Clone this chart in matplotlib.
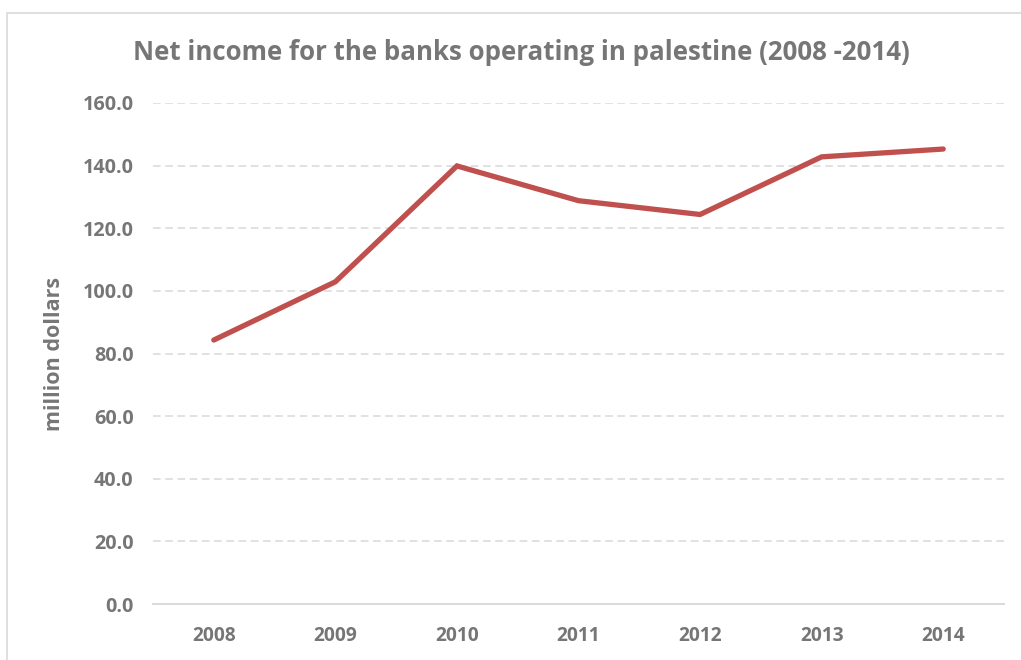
import matplotlib
matplotlib.use("Agg")
import matplotlib.pyplot as plt
from matplotlib.patches import Rectangle

years = ["2008", "2009", "2010", "2011", "2012", "2013", "2014"]
net_income = [84.3, 102.9, 139.9, 128.8, 124.4, 142.8, 145.3]
y_ticks = [0, 20, 40, 60, 80, 100, 120, 140, 160]
y_tick_labels = [f"{v:.1f}" for v in y_ticks]

title = "Net income for the banks operating in palestine (2008 -2014)"
y_label = "million dollars"

TEXT = "#767676"
GRID = "#D9D9D9"
LINE = "#C0504D"

plt.rcParams["font.family"] = ["Open Sans", "DejaVu Sans"]
plt.rcParams["font.weight"] = "bold"

W, H = 1021, 660
fig = plt.figure(figsize=(W / 100, H / 100), dpi=100)
fig.patch.set_facecolor("white")

# chart frame (only top and left edges fall inside the canvas)
fig.patches.append(Rectangle((7 / W, -0.1), 1.2, 1 - 13 / H + 0.1,
                             transform=fig.transFigure, fill=False,
                             edgecolor=GRID, linewidth=1.2))

ax = fig.add_axes([153 / W, 1 - 604 / H, (1004 - 153) / W, (604 - 103) / H])
x = list(range(len(years)))
ax.plot(x, net_income, color=LINE, linewidth=3.8, solid_capstyle="round",
        solid_joinstyle="miter", zorder=3)

ax.set_xlim(-0.5, len(years) - 0.5)
ax.set_ylim(0, 160)
ax.set_yticks(y_ticks)
ax.set_yticklabels(y_tick_labels)
ax.set_xticks(x)
ax.set_xticklabels(years)

for v in y_ticks[1:]:
    ax.axhline(v, color=GRID, linewidth=1.1, linestyle=(0, (5, 3)), zorder=1)

for s in ["top", "right", "left"]:
    ax.spines[s].set_visible(False)
ax.spines["bottom"].set_color(GRID)
ax.spines["bottom"].set_linewidth(1.4)

ax.tick_params(axis="y", length=0, labelsize=14.2, labelcolor=TEXT, pad=14)
ax.tick_params(axis="x", length=0, labelsize=13.8, labelcolor=TEXT, pad=16)
for lbl in ax.get_xticklabels() + ax.get_yticklabels():
    lbl.set_fontweight("bold")

ax.set_ylabel(y_label, fontsize=15.5, color=TEXT, fontweight="bold")
ax.yaxis.set_label_coords(-0.103, 0.5)

fig.text(521 / W, 1 - 53 / H, title, ha="center", va="center",
         fontsize=18.6, color=TEXT, fontweight="bold")

fig.savefig("out.png", dpi=100, facecolor="white")
